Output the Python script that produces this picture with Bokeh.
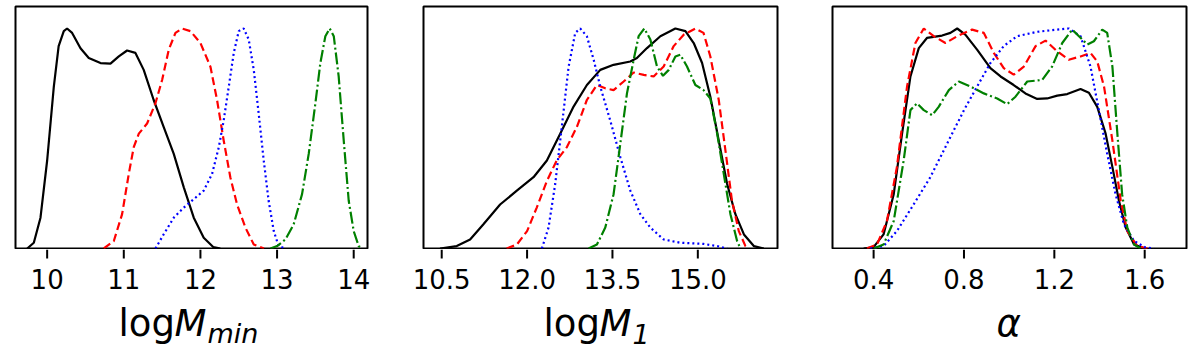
from bokeh.plotting import figure
from bokeh.layouts import row, column
from bokeh.models import Range1d, Label
from bokeh.core.properties import value
from bokeh.embed import file_html
from bokeh.resources import INLINE

# ---------------- data (normalised densities) ----------------
# Panel 1: log M_min
mmin_black_x = [9.74, 9.826, 9.913, 10.0, 10.087, 10.15, 10.217, 10.26, 10.326, 10.435, 10.543, 10.696, 10.826, 10.935, 11.043, 11.152, 11.26, 11.39, 11.52, 11.652, 11.783, 11.913, 12.043, 12.17, 12.26]
mmin_black_y = [0, 0.026, 0.14, 0.40, 0.736, 0.92, 0.988, 1.0, 0.98, 0.91, 0.866, 0.843, 0.84, 0.873, 0.90, 0.889, 0.812, 0.675, 0.553, 0.43, 0.278, 0.14, 0.049, 0.006, 0]
mmin_red_x = [10.739, 10.87, 10.978, 11.065, 11.13, 11.196, 11.304, 11.413, 11.5, 11.587, 11.674, 11.76, 11.87, 12.0, 12.13, 12.217, 12.304, 12.39, 12.478, 12.587, 12.696, 12.83]
mmin_red_y = [0, 0.034, 0.156, 0.339, 0.461, 0.522, 0.568, 0.66, 0.766, 0.904, 0.98, 1.0, 0.988, 0.934, 0.827, 0.675, 0.49, 0.324, 0.2, 0.095, 0.018, 0]
mmin_blue_x = [11.413, 11.52, 11.652, 11.783, 11.913, 12.043, 12.152, 12.24, 12.304, 12.37, 12.435, 12.5, 12.565, 12.63, 12.696, 12.76, 12.826, 12.89, 12.957, 13.02, 13.11]
mmin_blue_y = [0, 0.064, 0.14, 0.186, 0.224, 0.263, 0.339, 0.461, 0.583, 0.736, 0.889, 0.988, 1.0, 0.95, 0.812, 0.614, 0.4, 0.217, 0.079, 0.011, 0]
mmin_green_x = [12.913, 13.0, 13.109, 13.217, 13.326, 13.413, 13.5, 13.565, 13.63, 13.687, 13.74, 13.804, 13.87, 13.935, 14.0, 14.065, 14.11]
mmin_green_y = [0, 0.011, 0.041, 0.11, 0.247, 0.43, 0.66, 0.843, 0.965, 1.0, 0.965, 0.782, 0.49, 0.217, 0.079, 0.011, 0]

# Panel 2: log M_1
m1_black_x = [10.47, 10.764, 10.999, 11.233, 11.526, 11.82, 12.113, 12.348, 12.582, 12.817, 13.051, 13.286, 13.52, 13.814, 13.93, 14.107, 14.342, 14.606, 14.782, 14.928, 15.075, 15.22, 15.368, 15.515, 15.66, 15.81, 15.984, 16.16]
m1_black_y = [0, 0.011, 0.041, 0.11, 0.2, 0.263, 0.324, 0.4, 0.522, 0.645, 0.743, 0.812, 0.835, 0.85, 0.866, 0.911, 0.965, 1.0, 0.988, 0.934, 0.843, 0.69, 0.49, 0.293, 0.156, 0.064, 0.011, 0]
m1_red_x = [11.64, 11.82, 12.0, 12.17, 12.35, 12.52, 12.7, 12.875, 13.05, 13.227, 13.374, 13.52, 13.697, 13.873, 14.05, 14.224, 14.4, 14.576, 14.752, 14.957, 15.1, 15.22, 15.368, 15.485, 15.6, 15.72, 15.837, 15.9]
m1_red_y = [0, 0.018, 0.079, 0.186, 0.308, 0.4, 0.461, 0.553, 0.675, 0.743, 0.728, 0.72, 0.759, 0.8, 0.789, 0.782, 0.827, 0.92, 0.972, 1.0, 0.98, 0.873, 0.675, 0.446, 0.217, 0.079, 0.011, 0]
m1_blue_x = [12.26, 12.377, 12.494, 12.61, 12.73, 12.846, 12.934, 13.05, 13.17, 13.286, 13.46, 13.638, 13.814, 13.99, 14.166, 14.4, 14.694, 15.1, 15.34, 15.515]
m1_blue_y = [0, 0.095, 0.293, 0.553, 0.827, 0.98, 1.0, 0.965, 0.858, 0.736, 0.583, 0.415, 0.263, 0.156, 0.095, 0.041, 0.026, 0.021, 0.011, 0]
m1_green_x = [13.08, 13.227, 13.374, 13.52, 13.638, 13.755, 13.873, 13.96, 14.06, 14.166, 14.283, 14.388, 14.49, 14.606, 14.693, 14.81, 14.957, 15.1, 15.22, 15.34, 15.456, 15.573, 15.69, 15.75]
m1_green_y = [0, 0.018, 0.095, 0.247, 0.476, 0.705, 0.858, 0.965, 1.0, 0.95, 0.827, 0.785, 0.812, 0.873, 0.881, 0.827, 0.743, 0.72, 0.682, 0.522, 0.339, 0.156, 0.034, 0]

# Panel 3: alpha
al_black_x = [0.356, 0.4, 0.444, 0.489, 0.526, 0.563, 0.6, 0.636, 0.703, 0.74, 0.77, 0.806, 0.858, 0.917, 0.962, 1.02, 1.072, 1.124, 1.168, 1.213, 1.257, 1.316, 1.353, 1.39, 1.427, 1.457, 1.486, 1.516, 1.553, 1.6]
al_black_y = [0, 0.006, 0.064, 0.247, 0.522, 0.782, 0.911, 0.957, 0.968, 0.98, 1.0, 0.972, 0.904, 0.82, 0.782, 0.743, 0.705, 0.68, 0.682, 0.695, 0.702, 0.725, 0.708, 0.644, 0.522, 0.37, 0.217, 0.095, 0.018, 0]
al_red_x = [0.37, 0.415, 0.459, 0.503, 0.548, 0.585, 0.622, 0.666, 0.718, 0.77, 0.836, 0.888, 0.932, 0.976, 1.02, 1.065, 1.117, 1.161, 1.213, 1.264, 1.316, 1.36, 1.39, 1.42, 1.457, 1.494, 1.523, 1.567, 1.612]
al_red_y = [0, 0.018, 0.125, 0.37, 0.736, 0.934, 1.0, 0.965, 0.934, 0.965, 0.995, 0.98, 0.889, 0.82, 0.79, 0.827, 0.92, 0.945, 0.896, 0.858, 0.873, 0.889, 0.85, 0.736, 0.49, 0.217, 0.079, 0.011, 0]
al_blue_x = [0.385, 0.444, 0.503, 0.577, 0.651, 0.725, 0.8, 0.858, 0.917, 0.976, 1.035, 1.124, 1.213, 1.264, 1.316, 1.36, 1.397, 1.434, 1.471, 1.508, 1.553, 1.6, 1.641]
al_blue_y = [0, 0.011, 0.079, 0.2, 0.324, 0.476, 0.629, 0.736, 0.843, 0.92, 0.965, 0.985, 0.995, 1.0, 0.965, 0.827, 0.629, 0.43, 0.247, 0.11, 0.034, 0.006, 0]
al_green_x = [0.4, 0.444, 0.489, 0.533, 0.563, 0.592, 0.622, 0.659, 0.688, 0.733, 0.777, 0.829, 0.888, 0.947, 0.991, 1.028, 1.08, 1.146, 1.19, 1.235, 1.279, 1.309, 1.346, 1.375, 1.412, 1.434, 1.457, 1.479, 1.5, 1.523, 1.553, 1.582]
al_green_y = [0, 0.018, 0.125, 0.4, 0.629, 0.66, 0.629, 0.606, 0.644, 0.72, 0.759, 0.736, 0.705, 0.682, 0.656, 0.69, 0.759, 0.766, 0.827, 0.934, 0.995, 0.965, 0.927, 0.942, 0.995, 0.98, 0.827, 0.522, 0.247, 0.095, 0.018, 0]

# tick values / labels
mmin_ticks = [10, 11, 12, 13, 14]
mmin_labels = ["10", "11", "12", "13", "14"]
m1_ticks = [10.5, 12.0, 13.5, 15.0]
m1_labels = ["10.5", "12.0", "13.5", "15.0"]
al_ticks = [0.4, 0.8, 1.2, 1.6]
al_labels = ["0.4", "0.8", "1.2", "1.6"]

FONT = "DejaVu Sans"
LW = 2.2
STYLES = [
    dict(line_color="black", line_width=LW, line_dash="solid"),
    dict(line_color="#ff0000", line_width=LW, line_dash="8 4"),
    dict(line_color="#0000ff", line_width=LW, line_dash="2 3"),
    dict(line_color="#008000", line_width=LW, line_dash="12 3 2 3"),
]

TOP = 6            # space above the panel frames
FRAME_H = 242      # plot frame height
BOT = 1            # space below the panel frames
LOWER_H = 106      # strip holding ticks, tick labels and axis titles
TICK_LEN = 9
TICK_BASE = 77     # vertical anchor of tick labels inside the strip
TITLE_BASE = 32
SUB_BASE = 22


def make_panel(xr, series, border_left, border_right, frame_w):
    p = figure(width=border_left + frame_w + border_right, height=TOP + FRAME_H + BOT,
               x_range=Range1d(*xr), y_range=Range1d(0, 1.1),
               x_axis_location=None, y_axis_location=None,
               toolbar_location=None, output_backend="svg",
               min_border_left=border_left, min_border_right=border_right,
               min_border_top=TOP, min_border_bottom=BOT)
    p.grid.visible = False
    p.outline_line_color = "black"
    p.outline_line_width = 2
    p.background_fill_color = "white"
    p.border_fill_color = "white"
    for (xs, ys), st in zip(series, STYLES):
        p.line(xs, ys, **st)
    return p


def make_lower(xr, border_left, border_right, frame_w, ticks, labels, parts):
    # strip under a panel; same data->pixel mapping as the panel above it
    scale = frame_w / (xr[1] - xr[0])
    x0 = xr[0] - border_left / scale
    x1 = xr[1] + border_right / scale
    t = figure(width=border_left + frame_w + border_right, height=LOWER_H,
               x_range=Range1d(x0, x1), y_range=Range1d(0, LOWER_H),
               x_axis_location=None, y_axis_location=None,
               toolbar_location=None, output_backend="svg",
               min_border_left=0, min_border_right=0,
               min_border_top=0, min_border_bottom=0)
    t.grid.visible = False
    t.outline_line_color = None
    t.border_fill_color = "white"
    t.background_fill_color = "white"
    # tick marks hanging under the panel frame
    t.segment(x0=ticks, x1=ticks, y0=LOWER_H, y1=LOWER_H - TICK_LEN,
              line_color="black", line_width=2)
    t.text(x=ticks, y=TICK_BASE, text=labels, text_font=value(FONT),
           text_font_size="26px", text_color="black",
           text_align="center", text_baseline="alphabetic")
    xc = (xr[0] + xr[1]) / 2
    for text, dx, yb, size, style in parts:
        t.add_layout(Label(x=xc, y=yb, x_units="data", y_units="data",
                           x_offset=dx, text=text,
                           text_font=FONT, text_font_size=size,
                           text_font_style=style, text_color="black",
                           text_align="left", text_baseline="alphabetic"))
    return t


XR1 = (9.587, 14.18)
XR2 = (10.18, 16.40)
XR3 = (0.218, 1.785)

p1 = make_panel(XR1, [(mmin_black_x, mmin_black_y), (mmin_red_x, mmin_red_y),
                      (mmin_blue_x, mmin_blue_y), (mmin_green_x, mmin_green_y)],
                15, 28, 352)
p2 = make_panel(XR2, [(m1_black_x, m1_black_y), (m1_red_x, m1_red_y),
                      (m1_blue_x, m1_blue_y), (m1_green_x, m1_green_y)],
                28, 27, 354)
p3 = make_panel(XR3, [(al_black_x, al_black_y), (al_red_x, al_red_y),
                      (al_blue_x, al_blue_y), (al_green_x, al_green_y)],
                28, 6, 354)

# ticks, tick labels and axis titles (upright "log", italic M, italic subscript)
t1 = make_lower(XR1, 15, 28, 352, mmin_ticks, mmin_labels,
                [("log", -73, TITLE_BASE, "37px", "normal"),
                 ("M", -17, TITLE_BASE, "37px", "italic"),
                 ("min", 16, SUB_BASE, "27px", "italic")])
t2 = make_lower(XR2, 28, 27, 354, m1_ticks, m1_labels,
                [("log", -57, TITLE_BASE, "37px", "normal"),
                 ("M", -1, TITLE_BASE, "37px", "italic"),
                 ("1", 32, SUB_BASE, "27px", "italic")])
t3 = make_lower(XR3, 28, 6, 354, al_ticks, al_labels,
                [("α", -13, TITLE_BASE, "37px", "italic")])

layout = column(row(p1, p2, p3, spacing=0), row(t1, t2, t3, spacing=0), spacing=0)
open("out.html", "w").write(file_html(layout, INLINE))
